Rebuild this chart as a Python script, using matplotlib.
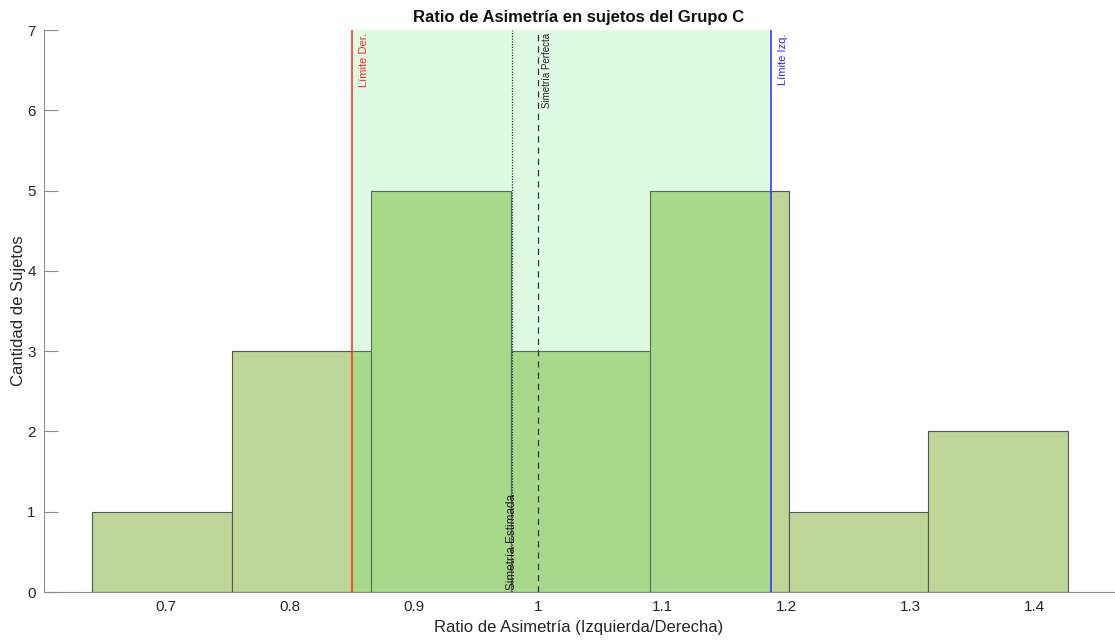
import numpy as np
import matplotlib
matplotlib.use("Agg")
import matplotlib.pyplot as plt

# histogram data
bin_edges = [0.6403, 0.7532, 0.8653, 0.9782, 1.0903, 1.2024, 1.3145, 1.4274]
counts = [1, 3, 5, 3, 5, 1, 2]

lim_der = 0.85
lim_izq = 1.1875
sim_estimada = 0.979
sim_perfecta = 1.0

xticks = [0.7, 0.8, 0.9, 1.0, 1.1, 1.2, 1.3, 1.4]
xticklabels = ["0.7", "0.8", "0.9", "1", "1.1", "1.2", "1.3", "1.4"]
yticks = [0, 1, 2, 3, 4, 5, 6, 7]

plt.rcParams["font.family"] = ["Liberation Sans", "DejaVu Sans"]

fig = plt.figure(figsize=(11.15, 6.4), dpi=100)
ax = fig.add_axes([0.0395, 0.075, 0.9596, 0.878])

edges = np.array(bin_edges)
ax.bar(edges[:-1], counts, width=np.diff(edges), align="edge",
       color="#bdd596", edgecolor="#555555", linewidth=0.8, zorder=2)

# accepted range
ax.axvspan(lim_der, lim_izq, color=(66 / 255, 237 / 255, 90 / 255),
           alpha=0.17, lw=0, zorder=3)

ax.axvline(lim_der, color="#ff2a1a", lw=1.3, alpha=0.85, zorder=4)
ax.axvline(lim_izq, color="#2a2aff", lw=1.3, alpha=0.85, zorder=4)
ax.axvline(sim_estimada, color="#333333", lw=0.9, ls=(0, (1, 1.2)), zorder=4)
ax.axvline(sim_perfecta, color="#333333", lw=0.9, ls=(0, (5, 4)), zorder=4)

ax.text(lim_der + 0.006, 6.96, "Límite Der.", rotation=90, color="#ff2a1a",
        fontsize=8, ha="left", va="top", zorder=5)
ax.text(lim_izq + 0.006, 6.96, "Límite Izq.", rotation=90, color="#2a2aff",
        fontsize=8, ha="left", va="top", zorder=5)
ax.text(sim_perfecta + 0.003, 6.96, "Simetría Perfecta", rotation=90,
        color="#222222", fontsize=7, ha="left", va="top", zorder=5)
ax.text(sim_estimada, 0.03, "Simetría Estimada", rotation=90,
        color="#222222", fontsize=8.5, ha="center", va="bottom", zorder=5)

ax.set_xlim(0.6016, 1.4645)
ax.set_ylim(0, 7)
ax.set_xticks(xticks)
ax.set_xticklabels(xticklabels)
ax.set_yticks(yticks)

for side in ("top", "right"):
    ax.spines[side].set_visible(False)
for side in ("left", "bottom"):
    ax.spines[side].set_color("#8c8c8c")
    ax.spines[side].set_linewidth(0.8)
    ax.spines[side].set_zorder(6)

ax.tick_params(direction="in", length=10, width=0.8, color="#8c8c8c",
               labelcolor="#262626", labelsize=11, pad=6)

ax.set_xlabel("Ratio de Asimetría (Izquierda/Derecha)", fontsize=12,
              color="#262626", labelpad=4)
ax.set_ylabel("Cantidad de Sujetos", fontsize=12, color="#262626",
              labelpad=1)
ax.set_title("Ratio de Asimetría en sujetos del Grupo C", fontsize=12,
             fontweight="bold", color="#111111", pad=6)

fig.savefig("out.png", dpi=100)
